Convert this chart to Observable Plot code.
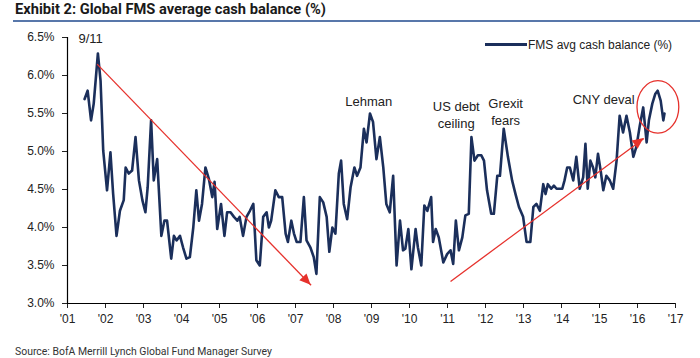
<!DOCTYPE html>
<html>
<head>
<meta charset="utf-8">
<script src="https://cdn.jsdelivr.net/npm/d3@7"></script>
<script src="https://cdn.jsdelivr.net/npm/@observablehq/plot@0.6"></script>
<style>
  html, body { margin: 0; padding: 0; background: #fff; }
  #wrap { position: relative; width: 700px; height: 358px; overflow: hidden; font-family: "Liberation Sans", Arial, sans-serif; }
  #title { margin-left: 13px; height: 22px; box-sizing: border-box; border-bottom: 2px solid #5877aa; padding-left: 2px; white-space: nowrap; overflow: visible; }
  #title span { display: inline-block; font-family: Roboto, "Liberation Sans", sans-serif; font-weight: bold; font-size: 15px; line-height: 19px; color: #1a1a1a; transform-origin: 0 50%; }
  #chart { height: 313px; margin-top: 2px; }
  #source { margin-left: 15px; height: 21px; white-space: nowrap; }
  #source span { display: inline-block; font-family: Roboto, "Liberation Sans", sans-serif; font-size: 11px; line-height: 18px; color: #333; transform-origin: 0 50%; padding-top: 6px; }
  #legend { position: absolute; left: 485px; top: 37px; display: flex; align-items: center; height: 15px; }
  #legend i { display: block; width: 42px; height: 2.5px; background: #1b2f5b; }
  #legend b { font-weight: normal; font-size: 12px; color: #222; margin-left: 1px; font-family: "Liberation Sans", Arial, sans-serif; }
</style>
</head>
<body>
<div id="wrap">
  <div id="title"><span id="titleText">Exhibit 2: Global FMS average cash balance (%)</span></div>
  <div id="chart"></div>
  <div id="source"><span id="sourceText">Source: BofA Merrill Lynch Global Fund Manager Survey</span></div>
  <div id="legend"><i></i><b>FMS avg cash balance (%)</b></div>
</div>
<script>
// ---- data ----
const xDomain = [2001, 2017];
const yDomain = [3.0, 6.5];
const xTicks = [2001, 2002, 2003, 2004, 2005, 2006, 2007, 2008, 2009, 2010, 2011, 2012, 2013, 2014, 2015, 2016, 2017];
const yTicks = [3.0, 3.5, 4.0, 4.5, 5.0, 5.5, 6.0, 6.5];

const surveyDates = [
  2001.45,2001.53,2001.62,2001.69,2001.80,2001.87,2001.94,2002.04,2002.13,2002.20,
  2002.29,2002.38,2002.48,2002.53,2002.61,2002.70,2002.79,2002.88,2002.97,2003.05,
  2003.11,2003.20,2003.27,2003.36,2003.47,2003.55,2003.62,2003.73,2003.80,2003.87,
  2003.96,2004.04,2004.13,2004.22,2004.31,2004.39,2004.46,2004.54,2004.63,2004.72,
  2004.81,2004.87,2004.94,2005.04,2005.13,2005.20,2005.29,2005.38,2005.47,2005.53,
  2005.62,2005.71,2005.80,2005.89,2005.97,2006.06,2006.15,2006.24,2006.30,2006.36,
  2006.47,2006.56,2006.65,2006.74,2006.80,2006.89,2006.96,2007.03,2007.13,2007.22,
  2007.29,2007.39,2007.48,2007.55,2007.64,2007.73,2007.82,2007.89,2007.97,2008.05,
  2008.14,2008.20,2008.27,2008.36,2008.45,2008.55,2008.62,2008.71,2008.80,2008.87,
  2008.96,2009.04,2009.13,2009.22,2009.31,2009.39,2009.48,2009.57,2009.66,2009.75,
  2009.83,2009.89,2009.97,2010.05,2010.16,2010.22,2010.31,2010.39,2010.47,2010.57,
  2010.62,2010.69,2010.77,2010.89,2010.99,2011.08,2011.15,2011.22,2011.30,2011.39,
  2011.47,2011.56,2011.63,2011.71,2011.80,2011.89,2011.96,2012.04,2012.15,2012.22,
  2012.31,2012.38,2012.48,2012.59,2012.70,2012.79,2012.88,2012.99,2013.08,2013.18,
  2013.26,2013.34,2013.43,2013.52,2013.58,2013.64,2013.73,2013.80,2013.87,2013.93,
  2014.02,2014.08,2014.15,2014.22,2014.31,2014.39,2014.48,2014.57,2014.63,2014.69,
  2014.76,2014.83,2014.89,2014.96,2015.03,2015.10,2015.18,2015.27,2015.36,2015.45,
  2015.53,2015.62,2015.71,2015.80,2015.89,2015.97,2016.06,2016.15,2016.24,2016.30,
  2016.39,2016.47,2016.53,2016.61,2016.68,2016.71
];

const cashBalance = [
  5.69,5.80,5.41,5.63,6.29,5.93,5.01,4.49,4.99,4.45,
  3.89,4.22,4.36,4.79,4.71,4.75,5.19,4.62,4.36,4.20,
  4.53,5.41,4.62,4.90,3.89,4.09,4.09,3.59,3.89,3.83,
  3.89,3.74,3.59,3.61,4.00,4.49,4.09,4.31,4.79,4.64,
  4.40,4.60,3.98,4.31,3.89,4.20,4.20,4.14,4.09,4.14,
  3.89,4.14,4.22,4.31,3.57,3.50,4.14,4.20,4.00,4.09,
  4.49,4.40,4.40,3.92,3.81,4.09,3.92,3.81,3.81,4.40,
  3.83,3.74,3.61,3.39,4.40,4.33,4.14,3.68,4.00,3.92,
  4.71,4.88,4.31,4.11,4.53,4.79,4.68,4.79,5.30,5.12,
  5.50,5.39,4.90,5.19,4.79,4.31,4.20,4.68,3.50,4.09,
  3.70,3.72,3.98,3.45,3.98,3.74,3.50,4.29,4.22,4.40,
  3.81,3.98,3.87,3.54,3.65,3.70,3.52,4.09,3.70,3.87,
  4.16,4.18,5.19,4.88,4.95,4.95,4.88,4.49,4.18,4.18,
  4.68,4.68,5.30,4.93,4.62,4.44,4.27,4.14,3.81,3.81,
  4.27,4.31,4.22,4.57,4.44,4.57,4.51,4.55,4.51,4.51,
  4.51,4.62,4.79,4.79,4.62,4.93,4.51,4.66,5.10,4.51,
  4.88,4.79,4.66,4.97,4.75,4.49,4.68,4.62,4.51,4.88,
  5.47,5.25,5.47,5.25,4.93,5.06,5.34,5.58,5.12,5.41,
  5.63,5.76,5.80,5.67,5.41,5.50
];

const noteLabels = ["9/11", "Lehman", "US debt\nceiling", "Grexit\nfears", "CNY deval"];
const noteDates  = [2001.61, 2008.93, 2011.23, 2012.53, 2015.11];
const noteValues = [6.50, 5.67, 5.49, 5.53, 5.70];

// red trend arrows: start date/value -> end date/value
const arrowStartDates  = [2001.78, 2011.08];
const arrowStartValues = [6.15, 3.29];
const arrowEndDates    = [2007.41, 2016.17];
const arrowEndValues   = [3.24, 5.17];

// red highlight ellipse (centre and half-extents in data units)
const ringDate = 2016.55, ringValue = 5.58, ringHalfYears = 0.55, ringHalfPct = 0.345;

// ---- build tables ----
const series = surveyDates.map((t, i) => ({t, v: cashBalance[i]}));
const notes = noteLabels.map((label, i) => ({label, t: noteDates[i], v: noteValues[i]}));
const arrows = arrowStartDates.map((x1, i) => ({x1, y1: arrowStartValues[i], x2: arrowEndDates[i], y2: arrowEndValues[i]}));

const RED = "#e6312c";
const NAVY = "#1b2f5b";

const chart = Plot.plot({
  width: 700,
  height: 313,
  marginTop: 13,
  marginBottom: 34,
  marginLeft: 67,
  marginRight: 25,
  style: {fontFamily: "'Liberation Sans', Arial, sans-serif", fontSize: "12px", color: "#222", background: "white", overflow: "visible"},
  x: {domain: xDomain, ticks: xTicks, tickFormat: d => "'" + String(d).slice(2), tickSize: 5, tickPadding: 6, label: null},
  y: {domain: yDomain, ticks: yTicks, tickFormat: d => d.toFixed(1) + "%", tickSize: 5, tickPadding: 8, label: null},
  marks: [
    Plot.ruleX([xDomain[0]], {stroke: "#000", strokeWidth: 1.2}),
    Plot.ruleY([yDomain[0]], {stroke: "#000", strokeWidth: 1.2}),
    Plot.line(series, {x: "t", y: "v", stroke: NAVY, strokeWidth: 2.6, strokeLinejoin: "round"}),
    Plot.link(arrows, {x1: "x1", y1: "y1", x2: "x2", y2: "y2", stroke: RED, strokeWidth: 1.3}),
    Plot.text(notes, {x: "t", y: "v", text: "label", fontSize: 13, fill: "#222", lineHeight: 1.25})
  ]
});
document.getElementById("chart").appendChild(chart);

// filled arrowheads and highlight ring, positioned through the plot's own scales
const sx = chart.scale("x"), sy = chart.scale("y");
const NS = "http://www.w3.org/2000/svg";
arrows.forEach(a => {
  const X1 = sx.apply(a.x1), Y1 = sy.apply(a.y1), X2 = sx.apply(a.x2), Y2 = sy.apply(a.y2);
  const dx = X2 - X1, dy = Y2 - Y1, len = Math.hypot(dx, dy);
  const ux = dx / len, uy = dy / len, nx = -uy, ny = ux;
  const L = 11, W = 5;
  const pts = [[X2, Y2], [X2 - L * ux + W * nx, Y2 - L * uy + W * ny], [X2 - L * ux - W * nx, Y2 - L * uy - W * ny]];
  const poly = document.createElementNS(NS, "polygon");
  poly.setAttribute("points", pts.map(p => p.join(",")).join(" "));
  poly.setAttribute("fill", RED);
  chart.appendChild(poly);
});
const ell = document.createElementNS(NS, "ellipse");
ell.setAttribute("cx", sx.apply(ringDate));
ell.setAttribute("cy", sy.apply(ringValue));
ell.setAttribute("rx", Math.abs(sx.apply(ringDate + ringHalfYears) - sx.apply(ringDate)));
ell.setAttribute("ry", Math.abs(sy.apply(ringValue + ringHalfPct) - sy.apply(ringValue)));
ell.setAttribute("fill", "none");
ell.setAttribute("stroke", RED);
ell.setAttribute("stroke-width", 1.3);
chart.appendChild(ell);

// condense title and source text to the reference widths
function fit(id, target) {
  const el = document.getElementById(id);
  const w = el.getBoundingClientRect().width;
  if (w > 0) el.style.transform = "scaleX(" + (target / w) + ")";
}
fit("titleText", 311);
fit("sourceText", 257);
</script>
</body>
</html>
